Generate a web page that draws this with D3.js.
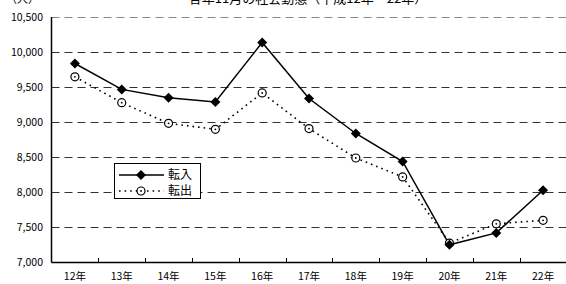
<!DOCTYPE html>
<html>
<head>
<meta charset="utf-8">
<script src="https://cdn.jsdelivr.net/npm/d3@7"></script>
<style>
  body { margin: 0; background: #fff; }
  text { font-family: "Noto Sans CJK JP", "DejaVu Sans", sans-serif; fill: #000; }
</style>
</head>
<body>
<svg id="chart" width="566" height="284"></svg>
<script>
// 各年11月の社会動態
const years = ["12年", "13年", "14年", "15年", "16年", "17年", "18年", "19年", "20年", "21年", "22年"];
const tennyu = [9840, 9470, 9350, 9290, 10140, 9340, 8840, 8440, 7250, 7420, 8030];
const tenshutsu = [9650, 9280, 8985, 8900, 9420, 8910, 8490, 8220, 7275, 7550, 7600];
const yTicks = [7000, 7500, 8000, 8500, 9000, 9500, 10000, 10500];

const svg = d3.select("#chart");
const plotL = 51.5, plotR = 566.5, plotT = 17.3, plotB = 262.3;

const x = d3.scaleBand().domain(years).range([plotL, plotR]);
const y = d3.scaleLinear().domain([7000, 10500]).range([plotB, plotT]);
const fmt = d3.format(",");

// title (上が切れている)
svg.append("text")
  .attr("x", 308).attr("y", 3)
  .attr("text-anchor", "middle")
  .attr("font-size", 13)
  .text("各年11月の社会動態（平成12年～22年）");

svg.append("text")
  .attr("x", 6).attr("y", 3)
  .attr("font-size", 11)
  .text("（人）");

// grid
svg.append("g")
  .selectAll("line")
  .data(yTicks.slice(1))
  .enter()
  .append("line")
  .attr("x1", plotL).attr("x2", plotR)
  .attr("y1", d => Math.round(y(d)) + 0.5)
  .attr("y2", d => Math.round(y(d)) + 0.5)
  .attr("stroke", (d) => d === 10500 ? "#888" : "#333")
  .attr("stroke-dasharray", "8,5");

// y labels
svg.append("g")
  .selectAll("text")
  .data(yTicks)
  .enter()
  .append("text")
  .attr("x", 43)
  .attr("y", d => y(d))
  .attr("dy", "0.35em")
  .attr("text-anchor", "end")
  .attr("font-size", 10.5)
  .text(fmt);

// axes
svg.append("line")
  .attr("x1", plotL).attr("x2", plotL)
  .attr("y1", Math.round(plotT)).attr("y2", Math.round(plotB) + 0.5)
  .attr("stroke", "#000").attr("stroke-width", 1.5);
svg.append("line")
  .attr("x1", plotL).attr("x2", plotR)
  .attr("y1", Math.round(plotB) + 0.5).attr("y2", Math.round(plotB) + 0.5)
  .attr("stroke", "#000").attr("stroke-width", 1.5);

// x ticks (inside)
svg.append("g")
  .selectAll("line")
  .data(years.slice(1))
  .enter()
  .append("line")
  .attr("x1", d => Math.round(x(d)) + 0.5)
  .attr("x2", d => Math.round(x(d)) + 0.5)
  .attr("y1", Math.round(plotB))
  .attr("y2", Math.round(plotB) - 4)
  .attr("stroke", "#000");

svg.append("g")
  .selectAll("text")
  .data(years)
  .enter()
  .append("text")
  .attr("x", d => x(d) + x.bandwidth() / 2)
  .attr("y", 280)
  .attr("text-anchor", "middle")
  .attr("font-size", 10.5)
  .text(d => d);

const cx = (d, i) => x(years[i]) + x.bandwidth() / 2;
const line = d3.line().x(cx).y(d => y(d));

// 転出 (dotted, open circle)
svg.append("path")
  .datum(tenshutsu)
  .attr("d", line)
  .attr("fill", "none")
  .attr("stroke", "#000")
  .attr("stroke-width", 1.6)
  .attr("stroke-dasharray", "1.6,4");

// 転入 (solid, diamond)
svg.append("path")
  .datum(tennyu)
  .attr("d", line)
  .attr("fill", "none")
  .attr("stroke", "#000")
  .attr("stroke-width", 1.5);

const diamond = (g, px, py) => {
  g.append("path")
    .attr("d", `M${px},${py - 5}L${px + 5},${py}L${px},${py + 5}L${px - 5},${py}Z`)
    .attr("fill", "#000");
};
const ring = (g, px, py) => {
  g.append("circle").attr("cx", px).attr("cy", py).attr("r", 4)
    .attr("fill", "#fff").attr("stroke", "#000").attr("stroke-width", 1.2);
  g.append("circle").attr("cx", px).attr("cy", py).attr("r", 0.9).attr("fill", "#000");
};

const marks = svg.append("g");
tenshutsu.forEach((d, i) => ring(marks, cx(d, i), y(d)));
tennyu.forEach((d, i) => diamond(marks, cx(d, i), y(d)));

// legend
const lg = svg.append("g");
lg.append("rect")
  .attr("x", 114.5).attr("y", 163.5)
  .attr("width", 86).attr("height", 35)
  .attr("fill", "#fff").attr("stroke", "#000");
lg.append("line").attr("x1", 119).attr("x2", 164).attr("y1", 175).attr("y2", 175)
  .attr("stroke", "#000").attr("stroke-width", 1.5);
diamond(lg, 141, 175);
lg.append("line").attr("x1", 119).attr("x2", 164).attr("y1", 191).attr("y2", 191)
  .attr("stroke", "#000").attr("stroke-width", 1.6).attr("stroke-dasharray", "1.6,4");
ring(lg, 141, 191);
lg.append("text").attr("x", 168).attr("y", 175).attr("dy", "0.35em")
  .attr("font-size", 12).text("転入");
lg.append("text").attr("x", 168).attr("y", 191).attr("dy", "0.35em")
  .attr("font-size", 12).text("転出");
</script>
</body>
</html>
